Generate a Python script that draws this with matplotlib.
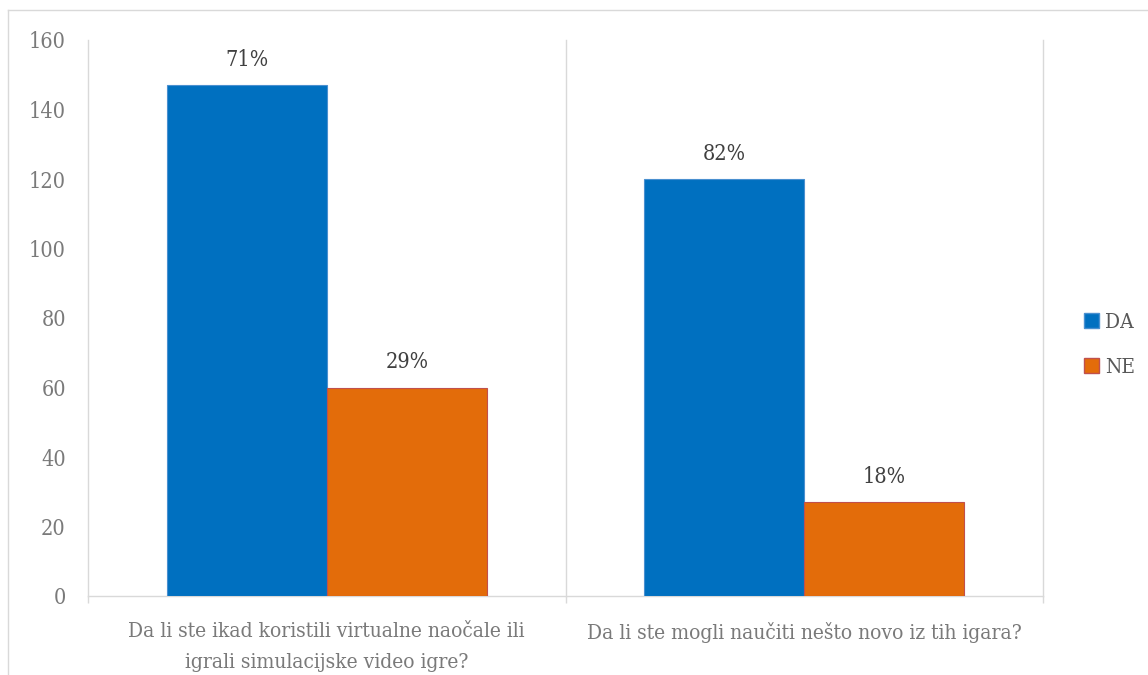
import matplotlib
matplotlib.use("Agg")
import matplotlib.pyplot as plt
from matplotlib.lines import Line2D
from matplotlib.patches import Patch
import numpy as np

categories = ["Da li ste ikad koristili virtualne naočale ili\nigrali simulacijske video igre?",
              "Da li ste mogli naučiti nešto novo iz tih igara?"]
series_names = ["DA", "NE"]
da_values = [147, 120]
ne_values = [60, 27]
da_labels = ["71%", "82%"]
ne_labels = ["29%", "18%"]
y_ticks = [0, 20, 40, 60, 80, 100, 120, 140, 160]

plt.rcParams['font.family'] = ['DejaVu Serif']
plt.rcParams['font.stretch'] = 'condensed'

W, H = 1148, 675
fig = plt.figure(figsize=(W/100, H/100), dpi=100)
ax = fig.add_axes([88/W, (H-596)/H, (1043-88)/W, (596-40)/H])

x = np.arange(len(categories))
bw = 0.335
blue = "#0070C0"
orange = "#E36C0A"
b1 = ax.bar(x - bw/2, da_values, bw, color=blue, edgecolor="#4A90D0", linewidth=0.8, zorder=3)
b2 = ax.bar(x + bw/2, ne_values, bw, color=orange, edgecolor="#C0504D", linewidth=0.8, zorder=3)

for rects, labs in ((b1, da_labels), (b2, ne_labels)):
    for r, lab in zip(rects, labs):
        ax.annotate(lab, (r.get_x() + r.get_width()/2, r.get_height()),
                    xytext=(0, 18), textcoords="offset points", ha="center", va="center",
                    fontsize=15.5, color="#404040")

ax.set_xlim(-0.5, len(categories) - 0.5)
ax.set_ylim(0, 160)
ax.set_yticks(y_ticks)
ax.set_yticklabels([str(v) for v in y_ticks])
ax.tick_params(axis="y", length=0, pad=16, labelsize=15.5, labelcolor="#7a7a7a")

ax.set_xticks(x)
ax.set_xticklabels(categories, linespacing=1.75)
ax.tick_params(axis="x", which="major", length=0, pad=19, labelsize=15, labelcolor="#7a7a7a")
bounds = np.arange(len(categories) + 1) - 0.5
ax.set_xticks(bounds, minor=True)
ax.tick_params(axis="x", which="minor", length=5, width=1, color="#d9d9d9", direction="out")
for b in bounds:
    ax.axvline(b, color="#d9d9d9", linewidth=1, zorder=0, clip_on=False)

for s in ("top", "right", "left"):
    ax.spines[s].set_visible(False)
ax.spines["bottom"].set_color("#d9d9d9")
ax.spines["bottom"].set_linewidth(1)

handles = [Patch(facecolor=blue, edgecolor="#4A90D0"), Patch(facecolor=orange, edgecolor="#C0504D")]
leg = fig.legend(handles, series_names, loc="center left", bbox_to_anchor=(1076/W, 1 - 345/H),
                 frameon=False, fontsize=15, handlelength=0.7, handleheight=0.7,
                 handletextpad=0.3, labelspacing=1.25, borderaxespad=0)
for t in leg.get_texts():
    t.set_color("#595959")

fig.add_artist(Line2D([8/W, 8/W], [0, 1 - 10/H], color="#d9d9d9", linewidth=1))
fig.add_artist(Line2D([8/W, 1], [1 - 10/H, 1 - 10/H], color="#d9d9d9", linewidth=1))

fig.savefig("out.png", dpi=100)
